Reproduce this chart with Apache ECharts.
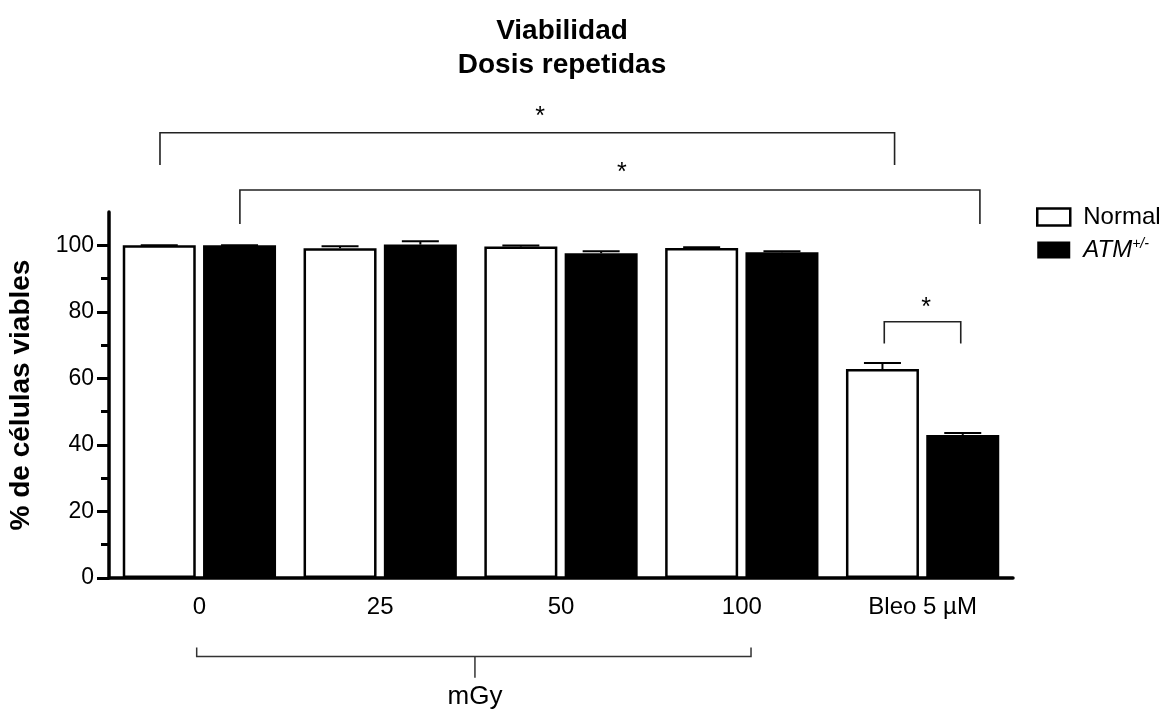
<!DOCTYPE html>
<html>
<head>
<meta charset="utf-8">
<script src="https://cdn.jsdelivr.net/npm/echarts@6/dist/echarts.min.js"></script>
<style>
  html, body { margin: 0; padding: 0; background: #fff; }
  #main { width: 1165px; height: 713px; }
</style>
</head>
<body>
<div id="main"></div>
<script>
// categories and bar values (% viable cells)
const categories = ["0", "25", "50", "100", "Bleo 5 µM"];
const normalValues = [100, 99.1, 99.6, 99.2, 62.8];
const normalErrTop = [100, 99.7, 99.9, 99.4, 64.6];
const atmValues = [100, 100.2, 97.6, 97.9, 43.0];
const atmErrTop = [100, 101.2, 98.2, 98.2, 43.6];
const yMajorTicks = [0, 20, 40, 60, 80, 100];
const yMinorTicks = [10, 30, 50, 70, 90];

// significance brackets: x in category units, y in axis values
const sigBrackets = [
  { from: -0.218, to: 3.845, y: 133.8, drop: 124.1, starX: 1.884, starY: 138.5 },
  { from: 0.224, to: 4.317, y: 116.6, drop: 106.4, starX: 2.337, starY: 121.7 },
  { from: 3.788, to: 4.211, y: 77.0, drop: 70.5, starX: 4.019, starY: 81.2 }
];
// dose group bracket under the axis
const doseBracket = { from: -0.015, to: 3.051, y: -23.6, up: -20.9, mid: 1.524, midDown: -30.0, textY: -35.6, label: "mGy" };

const FONT = 'Arial, "Liberation Sans", sans-serif';
const BAR_W = 73;
const BAR_GAP = 0.1;

const chart = echarts.init(document.getElementById("main"), null, { renderer: "canvas" });

// x pixel of a fractional category position
function catX(api, frac) {
  const c0 = api.coord([0, 0])[0];
  const band = api.size([1, 0])[0];
  return c0 + frac * band;
}

function errorRender(side) {
  return function (params, api) {
    const i = api.value(0);
    const top = api.coord([i, api.value(1)]);
    const base = api.coord([i, api.value(2)]);
    const x = top[0] + side * (BAR_W * (1 + BAR_GAP)) / 2;
    const half = 18.5;
    return {
      type: "group",
      children: [
        { type: "line", shape: { x1: x, y1: base[1], x2: x, y2: top[1] }, style: { stroke: "#000", lineWidth: 2 } },
        { type: "line", shape: { x1: x - half, y1: top[1], x2: x + half, y2: top[1] }, style: { stroke: "#000", lineWidth: 2 } }
      ]
    };
  };
}

const option = {
  backgroundColor: "#fff",
  animation: false,
  graphic: [{
    type: "text",
    x: 562,
    y: 14,
    style: {
      text: "Viabilidad\nDosis repetidas",
      font: "bold 28px " + FONT,
      fill: "#000",
      align: "center",
      verticalAlign: "top",
      lineHeight: 34
    }
  }],
  legend: {
    orient: "vertical",
    left: 1031,
    top: 200,
    icon: "rect",
    itemWidth: 33,
    itemHeight: 17,
    itemGap: 8,
    itemStyle: { borderWidth: 2.5, borderColor: "#000" },
    textStyle: {
      fontFamily: FONT, fontSize: 24, color: "#000", padding: [0, 0, 0, 8],
      rich: {
        it: { fontFamily: FONT, fontSize: 24, fontStyle: "italic", color: "#000" },
        sup: { fontFamily: FONT, fontSize: 14, fontStyle: "italic", color: "#000", verticalAlign: "top", lineHeight: 26 }
      }
    },
    formatter: name => name === "ATM" ? "{it|ATM}{sup|+/-}" : name,
    data: [
      { name: "Normal", itemStyle: { color: "#fff", borderColor: "#000", borderWidth: 2.5 } },
      { name: "ATM", itemStyle: { color: "#000", borderColor: "#000", borderWidth: 0 } }
    ]
  },
  grid: { left: 109, right: 152, top: 212, bottom: 135, containLabel: false, outerBoundsMode: "none" },
  xAxis: {
    type: "category",
    data: categories,
    axisLine: { lineStyle: { color: "#000", width: 3.5 } },
    axisTick: { alignWithLabel: true, length: 10, lineStyle: { color: "#000", width: 3 } },
    axisLabel: { color: "#000", fontFamily: FONT, fontSize: 24, margin: 17 }
  },
  yAxis: [
    {
      type: "value",
      position: "left",
      min: 0,
      max: 110,
      interval: 10,
      name: "% de células viables",
      nameLocation: "middle",
      nameGap: 74,
      nameTextStyle: { fontFamily: FONT, fontSize: 28, fontWeight: "bold", color: "#000" },
      axisLine: { show: true, lineStyle: { color: "#000", width: 3.5 } },
      axisTick: { show: true, length: 12, lineStyle: { color: "#000", width: 3 }, customValues: yMajorTicks },
      axisLabel: { color: "#000", fontFamily: FONT, fontSize: 23, margin: 15, customValues: yMajorTicks },
      splitLine: { show: false }
    },
    {
      type: "value",
      position: "left",
      offset: 0,
      min: 0,
      max: 110,
      interval: 10,
      axisLine: { show: false },
      axisTick: { show: true, length: 8, lineStyle: { color: "#000", width: 3 }, customValues: yMinorTicks },
      axisLabel: { show: false },
      splitLine: { show: false }
    }
  ],
  series: [
    {
      name: "Normal",
      type: "bar",
      data: normalValues,
      barWidth: BAR_W,
      barGap: (BAR_GAP * 100) + "%",
      itemStyle: { color: "#fff", borderColor: "#000", borderWidth: 2.5 }
    },
    {
      name: "ATM",
      type: "bar",
      data: atmValues,
      barWidth: BAR_W,
      barGap: (BAR_GAP * 100) + "%",
      itemStyle: { color: "#000" }
    },
    {
      type: "custom",
      name: "errNormal",
      z: 5,
      clip: false,
      data: categories.map((c, i) => [i, normalErrTop[i], normalValues[i]]),
      renderItem: errorRender(-1)
    },
    {
      type: "custom",
      name: "errATM",
      z: 5,
      clip: false,
      data: categories.map((c, i) => [i, atmErrTop[i], atmValues[i]]),
      renderItem: errorRender(1)
    },
    {
      type: "custom",
      name: "brackets",
      z: 6,
      clip: false,
      silent: true,
      data: sigBrackets.map(() => [0, 0]),
      renderItem: function (params, api) {
        const b = sigBrackets[params.dataIndex];
        const x1 = catX(api, b.from), x2 = catX(api, b.to);
        const y = api.coord([0, b.y])[1], yd = api.coord([0, b.drop])[1];
        const sx = catX(api, b.starX), sy = api.coord([0, b.starY])[1];
        const st = { stroke: "#222", lineWidth: 1.6 };
        return {
          type: "group",
          children: [
            { type: "polyline", shape: { points: [[x1, yd], [x1, y], [x2, y], [x2, yd]] }, style: Object.assign({ fill: null }, st) },
            { type: "text", style: { text: "*", x: sx, y: sy, font: "25px " + FONT, fill: "#000", align: "center", verticalAlign: "middle" } }
          ]
        };
      }
    },
    {
      type: "custom",
      name: "dose",
      z: 6,
      clip: false,
      silent: true,
      data: [[0, 0]],
      renderItem: function (params, api) {
        const b = doseBracket;
        const x1 = catX(api, b.from), x2 = catX(api, b.to), xm = catX(api, b.mid);
        const y = api.coord([0, b.y])[1], yu = api.coord([0, b.up])[1];
        const ym = api.coord([0, b.midDown])[1], yt = api.coord([0, b.textY])[1];
        const st = { stroke: "#333", lineWidth: 1.5, fill: null };
        return {
          type: "group",
          children: [
            { type: "polyline", shape: { points: [[x1, yu], [x1, y], [x2, y], [x2, yu]] }, style: st },
            { type: "line", shape: { x1: xm, y1: y, x2: xm, y2: ym }, style: st },
            { type: "text", style: { text: b.label, x: xm, y: yt, font: "26px " + FONT, fill: "#000", align: "center", verticalAlign: "middle" } }
          ]
        };
      }
    }
  ]
};

chart.setOption(option);
</script>
</body>
</html>
